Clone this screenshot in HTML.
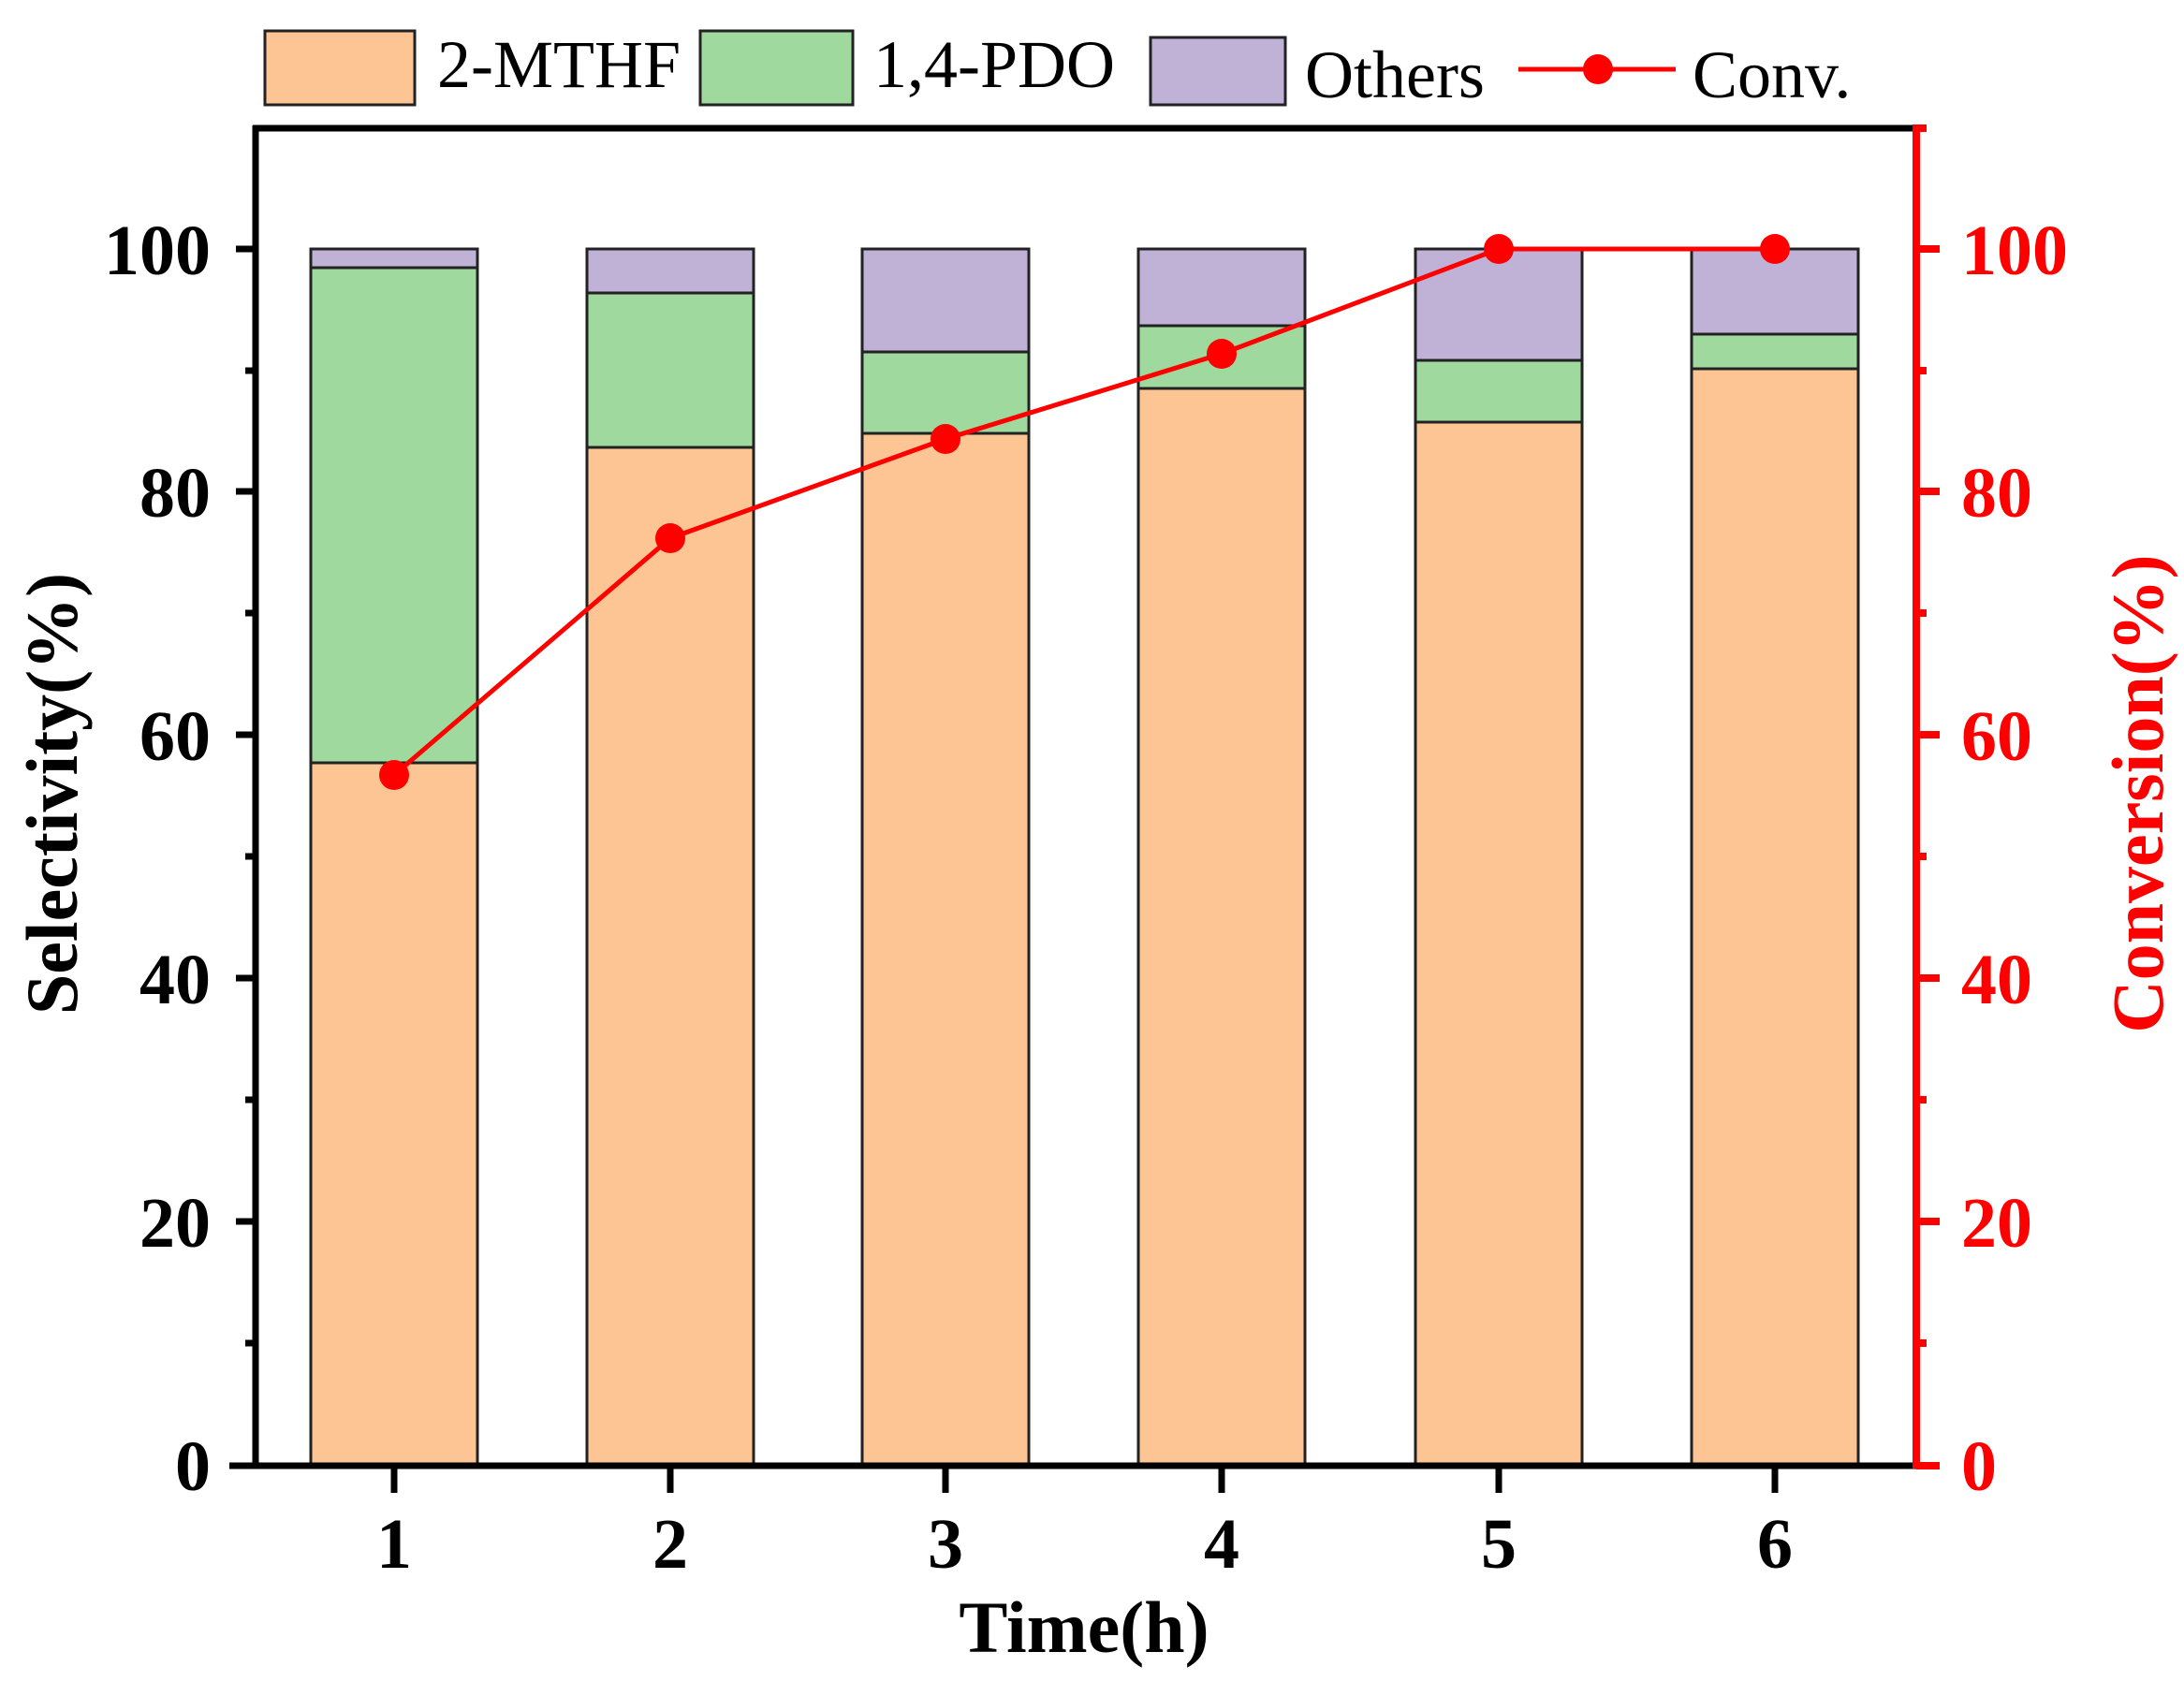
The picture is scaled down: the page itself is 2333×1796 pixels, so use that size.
<!DOCTYPE html>
<html><head><meta charset="utf-8"><style>html,body{margin:0;padding:0;background:#fff}svg{display:block}</style></head>
<body>
<svg xmlns="http://www.w3.org/2000/svg" width="2333" height="1796" viewBox="0 0 2333 1796" font-family="Liberation Serif, serif">
<rect width="2333" height="1796" fill="#fff"/>
<g stroke="#222" stroke-width="3">
<rect x="332" y="815" width="178" height="750" fill="#FDC594"/><rect x="332" y="286" width="178" height="529" fill="#9FD99E"/><rect x="332" y="266" width="178" height="20" fill="#C0B2D6"/>
<rect x="627" y="478" width="178" height="1087" fill="#FDC594"/><rect x="627" y="313" width="178" height="165" fill="#9FD99E"/><rect x="627" y="266" width="178" height="47" fill="#C0B2D6"/>
<rect x="921" y="463" width="178" height="1102" fill="#FDC594"/><rect x="921" y="376" width="178" height="87" fill="#9FD99E"/><rect x="921" y="266" width="178" height="110" fill="#C0B2D6"/>
<rect x="1216" y="415" width="178" height="1150" fill="#FDC594"/><rect x="1216" y="348" width="178" height="67" fill="#9FD99E"/><rect x="1216" y="266" width="178" height="82" fill="#C0B2D6"/>
<rect x="1512" y="451" width="178" height="1114" fill="#FDC594"/><rect x="1512" y="385" width="178" height="66" fill="#9FD99E"/><rect x="1512" y="266" width="178" height="119" fill="#C0B2D6"/>
<rect x="1807" y="394" width="178" height="1171" fill="#FDC594"/><rect x="1807" y="357" width="178" height="37" fill="#9FD99E"/><rect x="1807" y="266" width="178" height="91" fill="#C0B2D6"/>
</g>
<polyline points="421,828 716,575 1010,469 1305,378 1601,266 1896,266" fill="none" stroke="#f00" stroke-width="5"/>
<g fill="#f00"><circle cx="421" cy="828" r="16"/><circle cx="716" cy="575" r="16"/><circle cx="1010" cy="469" r="16"/><circle cx="1305" cy="378" r="16"/><circle cx="1601" cy="266" r="16"/><circle cx="1896" cy="266" r="16"/></g>
<g stroke="#000" stroke-width="7">
<line x1="273" y1="134" x2="273" y2="1568"/>
<line x1="245" y1="1566" x2="2047" y2="1566"/>
<line x1="270" y1="137" x2="2047" y2="137"/>
<line x1="252" y1="1566" x2="273" y2="1566"/><line x1="252" y1="1305" x2="273" y2="1305"/><line x1="252" y1="1045" x2="273" y2="1045"/><line x1="252" y1="785" x2="273" y2="785"/><line x1="252" y1="525" x2="273" y2="525"/><line x1="252" y1="266" x2="273" y2="266"/>
<line x1="262" y1="1435" x2="273" y2="1435"/><line x1="262" y1="1175" x2="273" y2="1175"/><line x1="262" y1="915" x2="273" y2="915"/><line x1="262" y1="655" x2="273" y2="655"/><line x1="262" y1="396" x2="273" y2="396"/>
<line x1="421" y1="1566" x2="421" y2="1595"/><line x1="716" y1="1566" x2="716" y2="1595"/><line x1="1010" y1="1566" x2="1010" y2="1595"/><line x1="1305" y1="1566" x2="1305" y2="1595"/><line x1="1601" y1="1566" x2="1601" y2="1595"/><line x1="1896" y1="1566" x2="1896" y2="1595"/>
</g>
<g stroke="#f00" stroke-width="8">
<line x1="2047" y1="133" x2="2047" y2="1569"/>
<line x1="2047" y1="1566" x2="2072" y2="1566"/><line x1="2047" y1="1305" x2="2072" y2="1305"/><line x1="2047" y1="1045" x2="2072" y2="1045"/><line x1="2047" y1="785" x2="2072" y2="785"/><line x1="2047" y1="525" x2="2072" y2="525"/><line x1="2047" y1="266" x2="2072" y2="266"/>
<line x1="2047" y1="1435" x2="2058" y2="1435"/><line x1="2047" y1="1175" x2="2058" y2="1175"/><line x1="2047" y1="915" x2="2058" y2="915"/><line x1="2047" y1="655" x2="2058" y2="655"/><line x1="2047" y1="396" x2="2058" y2="396"/><line x1="2047" y1="137" x2="2058" y2="137"/>
</g>
<g font-weight="bold" font-size="76" text-anchor="end">
<text x="225" y="1592">0</text><text x="225" y="1332">20</text><text x="225" y="1072">40</text><text x="225" y="812">60</text><text x="225" y="552">80</text><text x="225" y="293">100</text>
</g>
<g font-weight="bold" font-size="76" fill="#f00">
<text x="2095" y="1592">0</text><text x="2095" y="1332">20</text><text x="2095" y="1072">40</text><text x="2095" y="812">60</text><text x="2095" y="552">80</text><text x="2095" y="293">100</text>
</g>
<g font-weight="bold" font-size="76" text-anchor="middle">
<text x="421" y="1675">1</text><text x="716" y="1675">2</text><text x="1010" y="1675">3</text><text x="1305" y="1675">4</text><text x="1601" y="1675">5</text><text x="1896" y="1675">6</text>
<text x="1158" y="1765" font-size="78">Time(h)</text>
<text transform="translate(82,848) rotate(-90)" font-size="78">Selectivity(%)</text>
<text transform="translate(2310,848) rotate(-90)" font-size="78" fill="#f00">Conversion(%)</text>
</g>
<g stroke="#222" stroke-width="3">
<rect x="283" y="33" width="160" height="79" fill="#FDC594"/>
<rect x="748" y="33" width="163" height="79" fill="#9FD99E"/>
<rect x="1229" y="40" width="144" height="72" fill="#C0B2D6"/>
</g>
<line x1="1622" y1="74" x2="1790" y2="74" stroke="#f00" stroke-width="5"/>
<circle cx="1707" cy="74" r="16" fill="#f00"/>
<g font-size="72">
<text x="467" y="93">2-MTHF</text><text x="933" y="93">1,4-PDO</text><text x="1394" y="104">Others</text><text x="1808" y="104">Conv.</text>
</g>
</svg>
</body></html>
